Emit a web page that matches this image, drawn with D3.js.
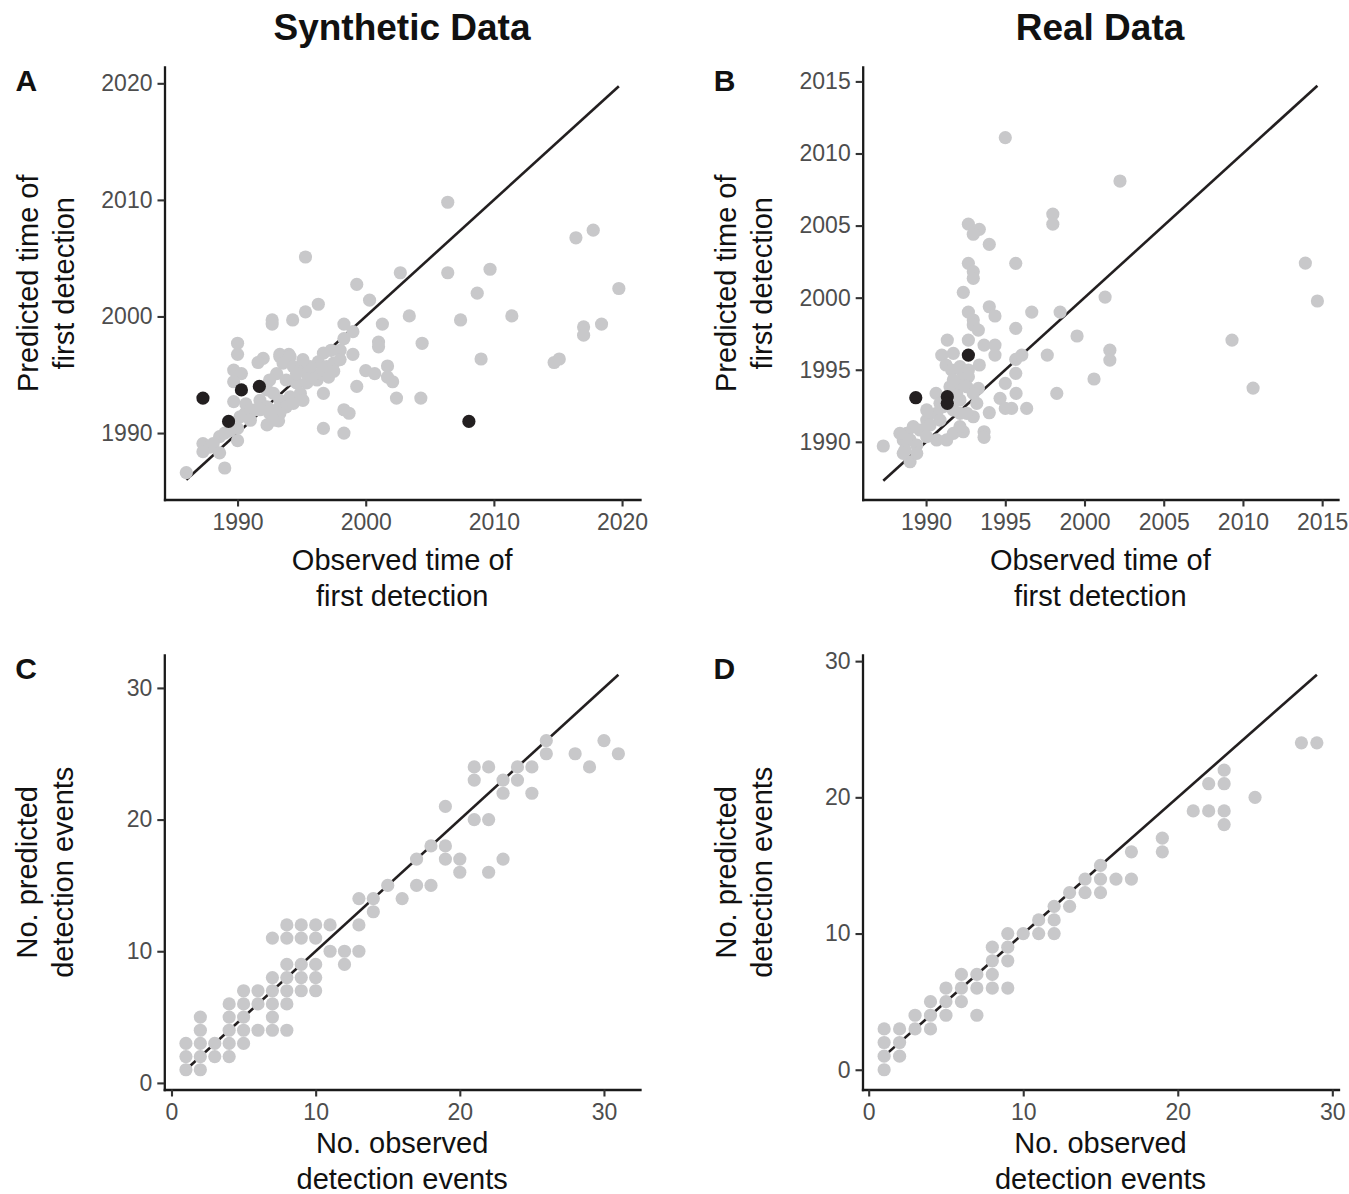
<!DOCTYPE html>
<html>
<head>
<meta charset="utf-8">
<script src="https://cdn.jsdelivr.net/npm/d3@7"></script>
<style>
  body { margin: 0; background: #fff; }
  svg { display: block; font-family: "Liberation Sans", Arial, Helvetica, sans-serif; }
</style>
</head>
<body>
<div id="okvir"></div>
<script>
// ---- podaci ----

// A: synthetic data, observed vs predicted year of first detection
const synthObs = [1995.3, 2002.7, 1999.3, 2000.3, 1996.3, 1995.3, 1992.7, 1992.7, 1994.3, 2003.4,
  1998.3, 2001.3, 1999.0, 1998.3, 2001.0, 2001.0, 1990.0, 1990.0, 1996.7, 1997.3,
  1999.0, 1998.0, 1993.3, 1994.0, 1992.0, 1991.6, 1996.3, 1989.7, 1990.3, 2001.7,
  2000.0, 2000.7, 2001.7, 2002.1, 1989.7, 1999.3, 1996.7, 1989.7, 1990.65, 2002.4,
  2004.3, 1998.3, 1998.7, 1992.3, 1993.2, 1996.7, 1998.3, 1990.2, 1990.6, 1991.0,
  1991.4, 1990.0, 1990.0, 1988.6, 1989.0, 1989.4, 1987.3, 1987.3, 1987.85, 1988.1,
  1988.6, 1989.0, 1986.0, 2006.4, 2016.4, 2017.75, 2006.4, 2009.7, 2008.7, 2019.75,
  2007.4, 2011.4, 2017.0, 2017.0, 2018.4, 2004.4, 2009.0, 2014.7, 2015.1, 1993.3,
  1994.1, 1993.55, 1994.35, 1994.9, 1995.4, 1993.05, 1992.5, 1993.8, 1994.6, 1995.4,
  1996.2, 1992.3, 1992.8, 1993.3, 1994.1, 1994.9, 1995.1, 1991.75, 1992.3, 1993.05,
  1993.8, 1994.35, 1992.5, 1993.3, 1991.75, 1991.0, 1992.8, 1996.4, 1996.95, 1997.5,
  1998.0, 1997.1, 1997.5, 1995.8, 1995.65, 1995.1, 1994.6]
const synthPred = [2005.1, 2003.75, 2002.75, 2001.4, 2001.05, 2000.4, 1999.7, 1999.35, 1999.7, 2000.05,
  1999.35, 1999.35, 1998.7, 1998.1, 1997.8, 1997.4, 1997.7, 1996.75, 1996.85, 1997.1,
  1996.75, 1997.1, 1996.75, 1996.75, 1996.4, 1996.05, 1996.1, 1995.4, 1995.1, 1995.75,
  1995.35, 1995.1, 1994.8, 1994.4, 1994.4, 1994.0, 1993.4, 1992.7, 1992.5, 1993.0,
  1993.0, 1992.0, 1991.7, 1990.7, 1991.05, 1990.4, 1990.0, 1991.4, 1991.7, 1992.0,
  1992.0, 1990.4, 1989.35, 1989.7, 1990.0, 1990.2, 1989.1, 1988.4, 1988.8, 1989.1,
  1988.3, 1987.0, 1986.6, 2009.8, 2006.75, 2007.4, 2003.75, 2004.05, 2002.0, 2002.4,
  1999.7, 2000.05, 1999.1, 1998.4, 1999.35, 1997.7, 1996.35, 1996.05, 1996.35, 1996.55,
  1996.55, 1996.0, 1995.7, 1995.4, 1995.1, 1995.1, 1994.55, 1994.55, 1994.3, 1994.3,
  1994.55, 1993.7, 1993.4, 1992.8, 1993.1, 1993.4, 1992.8, 1992.8, 1992.25, 1992.0,
  1992.25, 1992.55, 1991.7, 1991.7, 1992.0, 1991.1, 1991.1, 1995.1, 1995.7, 1996.0,
  1996.3, 1994.8, 1995.3, 1994.8, 1995.7, 1996.3, 1995.1]
const synthKeyObs = [1987.3, 1989.3, 1990.3, 1991.7, 2008.05]
const synthKeyPred = [1993.0, 1991.0, 1993.7, 1994.0, 1991.0]

// B: real data, observed vs predicted year of first detection
const realObs = [1995.0, 1998.0, 1998.0, 1992.67, 1993.36, 1992.98, 1993.99, 1992.67, 1992.98, 1992.98,
  1995.66, 1992.35, 1992.67, 1993.99, 1994.35, 1992.98, 1992.98, 1993.3, 1996.67, 1998.46,
  1995.66, 1991.34, 1992.67, 1993.66, 1994.35, 1994.35, 1990.99, 1991.72, 1997.65, 1995.66,
  1996.04, 1993.36, 1991.26, 1991.62, 1992.67, 1992.67, 1995.66, 1993.3, 1995.0, 1990.63,
  1998.25, 1994.67, 1995.68, 1995.0, 1995.4, 1996.35, 1993.99, 1992.35, 1993.66, 1993.66,
  1987.3, 1988.99, 1992.98, 1992.14, 1991.72, 1991.09, 1990.67, 1990.88, 1990.04, 1990.25,
  1989.62, 1989.19, 1988.78, 1988.56, 1988.99, 1989.41, 1988.67, 1989.41, 1990.04, 1990.67,
  1991.3, 1991.72, 1992.14, 1992.57, 1992.14, 1991.93, 1991.51, 1992.14, 1992.57, 1992.35,
  1992.14, 1991.72, 1992.98, 1993.2, 1990.88, 1990.04, 1988.35, 1988.56, 2002.24, 1999.53,
  2001.3, 2001.6, 2001.6, 2000.6, 2009.31, 2010.64, 2013.94, 2014.7]
const realPred = [2011.1, 2005.8, 2005.1, 2005.1, 2004.74, 2004.4, 2003.7, 2002.38, 2001.8, 2001.34,
  2002.38, 2000.37, 1999.0, 1999.37, 1998.73, 1998.45, 1998.1, 1997.75, 1999.0, 1999.0,
  1997.87, 1997.06, 1997.06, 1996.71, 1996.71, 1996.02, 1996.02, 1996.14, 1996.02, 1995.72,
  1996.02, 1995.33, 1995.33, 1994.98, 1994.98, 1994.52, 1994.75, 1993.71, 1994.06, 1993.36,
  1993.36, 1993.02, 1993.36, 1992.32, 1992.32, 1992.32, 1992.02, 1990.7, 1990.7, 1990.31,
  1989.71, 1988.62, 1991.74, 1991.98, 1992.21, 1992.44, 1991.98, 1991.51, 1991.51, 1991.17,
  1990.82, 1991.05, 1990.59, 1990.13, 1990.13, 1989.78, 1989.43, 1989.2, 1990.36, 1990.13,
  1990.13, 1990.59, 1991.05, 1991.98, 1992.9, 1993.36, 1993.82, 1994.06, 1993.82, 1994.75,
  1995.21, 1994.29, 1993.36, 1992.67, 1992.67, 1992.21, 1990.59, 1989.2, 2008.09, 1997.34,
  2000.04, 1996.36, 1995.67, 1994.36, 1997.06, 1993.73, 2002.4, 1999.77]
const realKeyObs = [1989.35, 1991.34, 1991.34, 1992.67]
const realKeyPred = [1993.06, 1993.13, 1992.67, 1996.02]

// C: synthetic data, number of detection events
const synthCountObs = [1, 2, 1, 2, 3, 4, 1, 2, 3, 4, 5, 2, 4, 5, 6, 7, 8, 2, 4, 5, 7, 4, 5, 6, 7, 8,
  5, 6, 7, 8, 9, 10, 7, 8, 9, 10, 8, 9, 10, 12, 11, 12, 13, 7, 8, 9, 10, 8, 9, 10, 11, 13,
  14, 13, 14, 15, 16, 17, 18, 17, 18, 19, 19, 20, 20, 22, 23, 19, 21, 22, 21, 21, 22, 23, 23,
  24, 24, 25, 25, 26, 26, 28, 29, 30, 31]
const synthCountPred = [1, 1, 2, 2, 2, 2, 3, 3, 3, 3, 3, 4, 4, 4, 4, 4, 4, 5, 5, 5, 5, 6, 6, 6, 6, 6,
  7, 7, 7, 7, 7, 7, 8, 8, 8, 8, 9, 9, 9, 9, 10, 10, 10, 11, 11, 11, 11, 12, 12, 12, 12, 12,
  13, 14, 14, 15, 14, 15, 15, 17, 18, 18, 17, 17, 16, 16, 17, 21, 20, 20, 23, 24, 24, 23, 22,
  24, 23, 24, 22, 26, 25, 25, 24, 26, 25]

// D: real data, number of detection events
const realCountObs = [1, 1, 1, 1, 2, 2, 2, 3, 3, 4, 4, 4, 5, 5, 5, 6, 6, 6, 7, 7, 7, 8, 8, 8, 8,
  9, 9, 9, 9, 10, 11, 11, 12, 12, 12, 13, 13, 14, 14, 15, 15, 15, 16, 17, 17, 19, 19, 21,
  22, 22, 23, 23, 23, 23, 25, 28, 29]
const realCountPred = [3, 2, 1, 0, 3, 2, 1, 4, 3, 5, 4, 3, 6, 5, 4, 7, 6, 5, 7, 6, 4, 9, 8, 7, 6,
  10, 9, 8, 6, 10, 11, 10, 12, 11, 10, 13, 12, 14, 13, 15, 14, 13, 14, 16, 14, 17, 16, 19,
  21, 19, 22, 21, 19, 18, 20, 24, 24]

// tick labels
const yearTicksSynth = [1990, 2000, 2010, 2020]
const yearTicksReal = [1990, 1995, 2000, 2005, 2010, 2015]
const countTicks = [0, 10, 20, 30]

const columnTitles = ["Synthetic Data", "Real Data"]
const yearXTitle = ["Observed time of", "first detection"]
const yearYTitle = ["Predicted time of", "first detection"]
const countXTitle = ["No. observed", "detection events"]
const countYTitle = ["No. predicted", "detection events"]

// ---- platno ----
const sirina = 1349
const visina = 1194

const okvir = d3.select("#okvir")
  .append("svg")
    .attr("width", sirina)
    .attr("height", visina)

okvir.append("rect")
    .attr("width", sirina)
    .attr("height", visina)
    .attr("fill", "#fff")

const sivo = "#c8c8ca"
const crno = "#231f20"

// column titles
columnTitles.forEach((t, i) => {
  okvir.append("text")
      .attr("x", i === 0 ? 402 : 1100)
      .attr("y", 40)
      .attr("text-anchor", "middle")
      .attr("font-size", 37)
      .attr("font-weight", "bold")
      .attr("fill", "#111")
      .text(t)
})

function crtajPanel(p) {
  const g = okvir.append("g")

  const xSkala = d3.scaleLinear()
    .domain(p.xDomain)
    .range([p.left, p.right])

  const ySkala = d3.scaleLinear()
    .domain(p.yDomain)
    .range([p.bottom, p.top])

  // 1:1 line over the observed range
  const raspon = d3.extent(p.obs.concat(p.keyObs || []))
  g.append("line")
      .attr("x1", xSkala(raspon[0]))
      .attr("y1", ySkala(raspon[0]))
      .attr("x2", xSkala(raspon[1]))
      .attr("y2", ySkala(raspon[1]))
      .attr("stroke", crno)
      .attr("stroke-width", 2.6)

  g.selectAll("circle.siva")
    .data(d3.zip(p.obs, p.pred))
    .join("circle")
      .attr("class", "siva")
      .attr("cx", d => xSkala(d[0]))
      .attr("cy", d => ySkala(d[1]))
      .attr("r", 6.6)
      .attr("fill", sivo)

  if (p.keyObs) {
    g.selectAll("circle.crna")
      .data(d3.zip(p.keyObs, p.keyPred))
      .join("circle")
        .attr("class", "crna")
        .attr("cx", d => xSkala(d[0]))
        .attr("cy", d => ySkala(d[1]))
        .attr("r", 6.6)
        .attr("fill", crno)
  }

  // axes
  const xOs = g.append("g")
    .attr("transform", `translate(0,${p.bottom})`)
    .call(d3.axisBottom(xSkala)
      .tickValues(p.xTicks)
      .tickFormat(d3.format("d"))
      .tickSize(7)
      .tickSizeOuter(0)
      .tickPadding(7))

  const yOs = g.append("g")
    .attr("transform", `translate(${p.left},0)`)
    .call(d3.axisLeft(ySkala)
      .tickValues(p.yTicks)
      .tickFormat(d3.format("d"))
      .tickSize(7)
      .tickSizeOuter(0)
      .tickPadding(5))

  ;[xOs, yOs].forEach(os => {
    os.select(".domain")
        .attr("stroke", "#1a1a1a")
        .attr("stroke-width", 2.3)
        .attr("stroke-linecap", "square")
    os.selectAll(".tick line")
        .attr("stroke", "#333")
        .attr("stroke-width", 2.1)
    os.selectAll(".tick text")
        .attr("fill", "#4d4d4d")
        .attr("font-size", 23)
        .attr("font-family", "'Liberation Sans', Arial, Helvetica, sans-serif")
  })

  // axis titles
  const sredinaX = (p.left + p.right) / 2
  p.xTitle.forEach((t, i) => {
    g.append("text")
        .attr("x", sredinaX)
        .attr("y", p.bottom + p.xTitleOffset + i * 36.5)
        .attr("text-anchor", "middle")
        .attr("font-size", 29)
        .attr("fill", "#111")
        .text(t)
  })

  const sredinaY = (p.top + p.bottom) / 2
  p.yTitle.forEach((t, i) => {
    const bx = p.left - 127 + i * 36
    g.append("text")
        .attr("transform", `translate(${bx},${sredinaY}) rotate(-90)`)
        .attr("text-anchor", "middle")
        .attr("font-size", 29)
        .attr("fill", "#111")
        .text(t)
  })

  // panel letter
  g.append("text")
      .attr("x", p.left - 149)
      .attr("y", p.top + 24)
      .attr("font-size", 30)
      .attr("font-weight", "bold")
      .attr("fill", "#111")
      .text(p.slovo)
}

crtajPanel({
  slovo: "A", obs: synthObs, pred: synthPred, keyObs: synthKeyObs, keyPred: synthKeyPred,
  xDomain: [1984.3, 2021.4], yDomain: [1984.3, 2021.4],
  left: 164.5, right: 640, top: 67, bottom: 499.5,
  xTicks: yearTicksSynth, yTicks: yearTicksSynth,
  xTitle: yearXTitle, yTitle: yearYTitle, xTitleOffset: 70,
})

crtajPanel({
  slovo: "B", obs: realObs, pred: realPred, keyObs: realKeyObs, keyPred: realKeyPred,
  xDomain: [1986, 2016], yDomain: [1986, 2016],
  left: 862.7, right: 1338, top: 67, bottom: 499.5,
  xTicks: yearTicksReal, yTicks: yearTicksReal,
  xTitle: yearXTitle, yTitle: yearYTitle, xTitleOffset: 70,
})

crtajPanel({
  slovo: "C", obs: synthCountObs, pred: synthCountPred,
  xDomain: [-0.5, 32.5], yDomain: [-0.5, 32.5],
  left: 164.3, right: 640, top: 655, bottom: 1089.5,
  xTicks: countTicks, yTicks: countTicks,
  xTitle: countXTitle, yTitle: countYTitle, xTitleOffset: 63,
})

crtajPanel({
  slovo: "D", obs: realCountObs, pred: realCountPred,
  xDomain: [-0.4, 30.4], yDomain: [-1.45, 30.45],
  left: 862.5, right: 1338.5, top: 655, bottom: 1089.5,
  xTicks: countTicks, yTicks: countTicks,
  xTitle: countXTitle, yTitle: countYTitle, xTitleOffset: 63,
})
</script>
</body>
</html>
